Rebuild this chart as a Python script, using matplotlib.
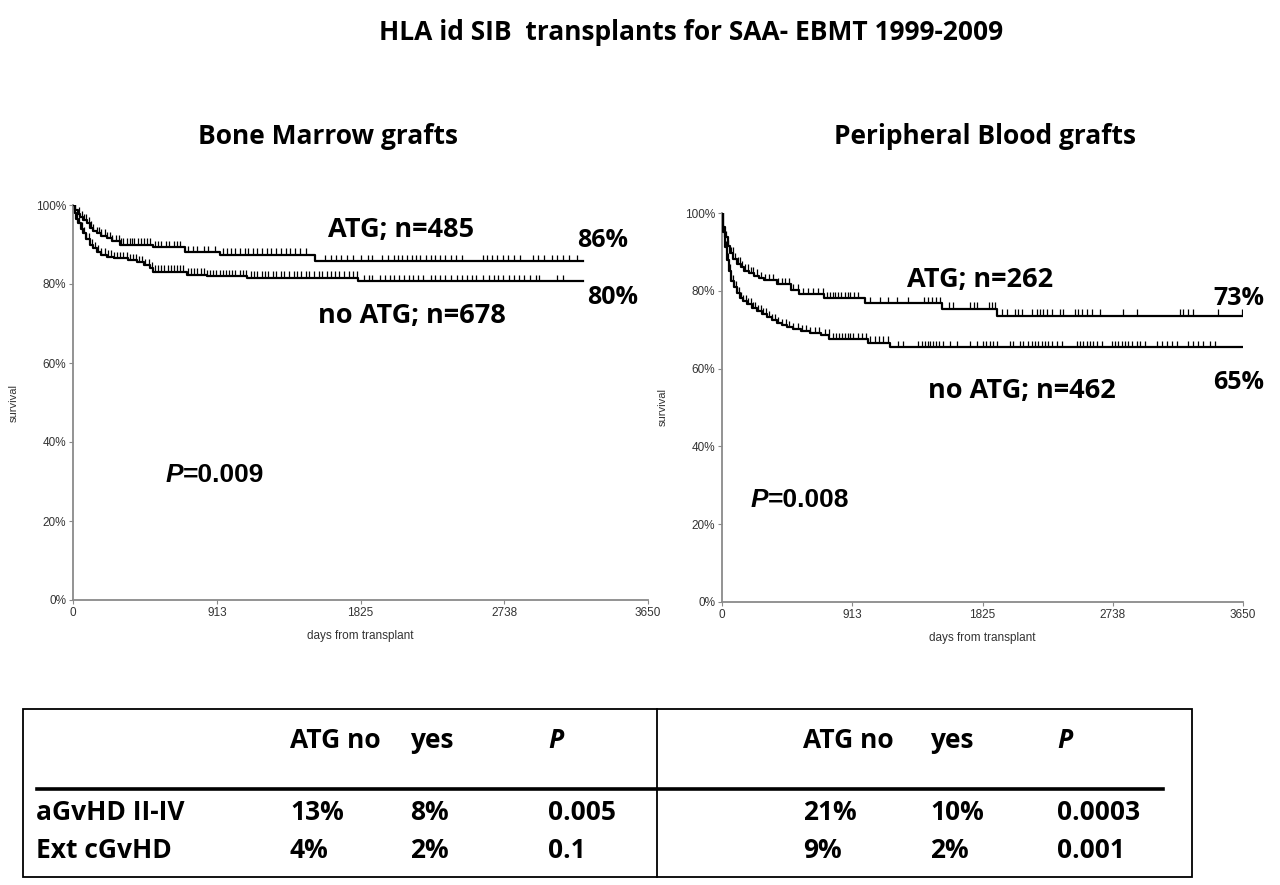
import matplotlib
matplotlib.use("Agg")
import matplotlib.pyplot as plt
import numpy as np
from matplotlib.patches import Rectangle
from matplotlib.lines import Line2D

# ---- survival curves (days, survival %) ----
bm_atg_t = [0, 15, 30, 44, 65, 87, 110, 130, 150, 180, 214, 250, 300, 510, 711, 933, 1537, 3240]
bm_atg_s = [100, 98.8, 97.8, 97.0, 96.2, 95.4, 94.3, 93.5, 92.8, 92.2, 91.6, 90.8, 90.0, 89.4, 88.0, 87.4, 85.8, 85.8]
bm_atg_cens = [40, 55, 70, 85, 100, 115, 130, 150, 165, 180, 200, 215, 235, 250, 270, 290, 305, 320, 340, 360,
               375, 390, 410, 430, 450, 470, 490, 520, 540, 560, 590, 610, 640, 660, 680, 730, 760, 790, 830,
               860, 900, 950, 975, 1000, 1030, 1060, 1090, 1110, 1140, 1170, 1200, 1230, 1260, 1290, 1320,
               1350, 1380, 1410, 1440, 1480, 1600, 1640, 1670, 1700, 1740, 1780, 1830, 1870, 1900, 1960,
               2000, 2040, 2060, 2090, 2120, 2150, 2180, 2200, 2240, 2270, 2300, 2330, 2360, 2400, 2430,
               2470, 2600, 2630, 2660, 2690, 2730, 2760, 2800, 2840, 2920, 2950, 2990, 3040, 3070, 3110,
               3150, 3200]

bm_no_t = [0, 10, 20, 34, 50, 66, 85, 108, 130, 150, 180, 214, 260, 298, 350, 404, 450, 489, 510, 722, 849,
           1103, 1812, 3240]
bm_no_s = [100, 98.0, 96.5, 95.4, 94.0, 92.8, 91.3, 89.9, 89.0, 88.2, 87.4, 86.9, 86.6, 86.5, 86.0, 85.6,
           84.8, 84.0, 83.1, 82.4, 81.9, 81.6, 80.8, 80.8]
bm_no_cens = [25, 40, 55, 70, 85, 100, 120, 140, 160, 180, 200, 220, 240, 260, 280, 300, 320, 340, 360, 380,
              400, 420, 440, 460, 480, 500, 520, 540, 560, 580, 600, 620, 640, 660, 680, 700, 730, 750, 770,
              790, 810, 830, 850, 870, 890, 910, 930, 950, 970, 990, 1010, 1030, 1060, 1080, 1100, 1130,
              1150, 1170, 1200, 1220, 1240, 1270, 1290, 1320, 1340, 1370, 1400, 1420, 1450, 1480, 1500,
              1530, 1560, 1580, 1610, 1640, 1660, 1690, 1720, 1750, 1780, 1800, 1850, 1880, 1900, 1950,
              1980, 2010, 2040, 2070, 2100, 2130, 2160, 2190, 2220, 2270, 2300, 2330, 2360, 2400, 2440,
              2470, 2500, 2530, 2560, 2600, 2640, 2670, 2700, 2730, 2770, 2800, 2830, 2860, 2900, 2940,
              2960, 3070, 3110]

pb_atg_t = [0, 10, 23, 40, 59, 80, 106, 130, 153, 190, 223, 260, 294, 388, 482, 540, 717, 999, 1539, 1927, 3650]
pb_atg_s = [100, 96.5, 93.9, 91.5, 89.6, 88.2, 87.0, 86.0, 85.2, 84.5, 83.9, 83.3, 82.8, 81.7, 80.2, 79.1,
            78.1, 76.9, 75.4, 73.6, 73.6]
pb_atg_cens = [30, 45, 60, 75, 90, 110, 125, 140, 160, 180, 200, 220, 245, 270, 300, 330, 360, 390, 420, 440,
               470, 500, 530, 570, 605, 640, 675, 710, 735, 755, 775, 795, 815, 835, 860, 880, 900, 925, 950,
               1040, 1110, 1165, 1225, 1305, 1415, 1440, 1470, 1500, 1530, 1590, 1620, 1740, 1765, 1785,
               1870, 1890, 1915, 1960, 1995, 2053, 2076, 2100, 2170, 2205, 2228, 2251, 2275, 2310, 2368,
               2391, 2473, 2496, 2520, 2555, 2590, 2648, 2811, 2905, 3208, 3231, 3266, 3301, 3476, 3640]

pb_no_t = [0, 10, 23, 35, 47, 65, 82, 105, 129, 150, 176, 210, 247, 280, 317, 350, 388, 420, 458, 500, 552,
           620, 693, 752, 1022, 1175, 3650]
pb_no_s = [100, 95.0, 91.3, 88.0, 85.2, 82.5, 80.9, 79.5, 78.2, 77.3, 76.5, 75.6, 74.8, 74.0, 73.2, 72.4,
           71.7, 71.1, 70.6, 70.1, 69.7, 69.2, 68.7, 67.5, 66.7, 65.5, 65.5]
pb_no_cens = [15, 25, 35, 45, 55, 65, 75, 85, 95, 105, 120, 135, 150, 165, 180, 200, 215, 230, 250, 270, 290,
              310, 330, 350, 370, 395, 420, 445, 470, 500, 530, 560, 590, 620, 650, 680, 720, 750, 780, 800,
              820, 840, 860, 880, 900, 920, 950, 980, 1010, 1040, 1070, 1100, 1130, 1160, 1236, 1271, 1376,
              1400, 1420, 1440, 1460, 1480, 1500, 1520, 1550, 1600, 1645, 1740, 1785, 1830, 1850, 1878,
              1900, 1925, 2018, 2041, 2088, 2111, 2146, 2170, 2193, 2216, 2240, 2263, 2286, 2310, 2345,
              2380, 2485, 2508, 2531, 2555, 2578, 2601, 2625, 2660, 2730, 2753, 2776, 2800, 2823, 2846,
              2870, 2905, 2928, 2963, 3045, 3080, 3115, 3150, 3185, 3266, 3301, 3336, 3371, 3418, 3453]

x_ticks = [0, 913, 1825, 2738, 3650]
y_ticks = [0, 20, 40, 60, 80, 100]

# ---- table ----
col_heads = ["ATG no", "yes", "P"]
row_names = ["aGvHD II-IV", "Ext cGvHD"]
bm_table = [["13%", "8%", "0.005"], ["4%", "2%", "0.1"]]
pb_table = [["21%", "10%", "0.0003"], ["9%", "2%", "0.001"]]

W, H = 1280, 885
BOLD = ["Open Sans", "DejaVu Sans"]
NARROW = ["Liberation Sans Narrow", "Liberation Sans", "DejaVu Sans"]


def fx(x):
    return x / W


def fy(y):
    return 1 - y / H


def draw_km(ax, t, s, cens):
    ax.step(t, s, where="post", color="black", lw=1.6, zorder=3)
    t = np.asarray(t)
    s = np.asarray(s)
    c = np.asarray(cens)
    lvl = s[np.searchsorted(t, c, side="right") - 1]
    ax.vlines(c, lvl, lvl + 1.6, color="black", lw=0.9, zorder=3)


def style_axes(ax):
    ax.set_xlim(0, 3650)
    ax.set_ylim(0, 100)
    ax.set_xticks(x_ticks)
    ax.set_xticklabels([str(v) for v in x_ticks])
    ax.set_yticks(y_ticks)
    ax.set_yticklabels([f"{v}%" for v in y_ticks])
    for sp in ["top", "right"]:
        ax.spines[sp].set_visible(False)
    for sp in ["left", "bottom"]:
        ax.spines[sp].set_color("#8a8a8a")
        ax.spines[sp].set_linewidth(1.3)
    ax.tick_params(length=3, color="#8a8a8a", labelcolor="#333333", labelsize=8.5, pad=2)
    for lab in ax.get_xticklabels() + ax.get_yticklabels():
        lab.set_family(NARROW)
    ax.set_xlabel("days from transplant", fontsize=8.5, family=NARROW, color="#333333", labelpad=8)
    ax.set_ylabel("survival", fontsize=8, family=NARROW, color="#333333", labelpad=12)


def p_value(ax, x, y, txt):
    ax.text(x, y, "P", ha="right", va="center", fontsize=19, fontweight="bold", style="italic",
            family=NARROW, clip_on=False)
    ax.text(x, y, txt, ha="left", va="center", fontsize=19, fontweight="bold", family=NARROW, clip_on=False)


def curve_label(ax, x, y, txt, size=19.5):
    ax.text(x, y, txt, fontsize=size, fontweight="bold", family=BOLD, va="center", clip_on=False)


fig = plt.figure(figsize=(12.8, 8.85), dpi=100)

fig.text(fx(691), fy(32), "HLA id SIB  transplants for SAA- EBMT 1999-2009", ha="center", va="center",
         fontsize=19, fontweight="bold", family=BOLD)
fig.text(fx(328), fy(137), "Bone Marrow grafts", ha="center", va="center", fontsize=19, fontweight="bold",
         family=BOLD)
fig.text(fx(985), fy(137), "Peripheral Blood grafts", ha="center", va="center", fontsize=19,
         fontweight="bold", family=BOLD)

# left panel: bone marrow
ax1 = fig.add_axes([fx(73), fy(600), 575 / W, 395 / H])
draw_km(ax1, bm_atg_t, bm_atg_s, bm_atg_cens)
draw_km(ax1, bm_no_t, bm_no_s, bm_no_cens)
style_axes(ax1)
curve_label(ax1, 1619, 93.7, "ATG; n=485")
curve_label(ax1, 3200, 91.1, "86%", 18)
curve_label(ax1, 3264, 76.7, "80%", 18)
curve_label(ax1, 1556, 71.9, "no ATG; n=678")
p_value(ax1, 698, 31.6, "=0.009")

# right panel: peripheral blood
ax2 = fig.add_axes([fx(722), fy(602), 521 / W, 389 / H])
draw_km(ax2, pb_atg_t, pb_atg_s, pb_atg_cens)
draw_km(ax2, pb_no_t, pb_no_s, pb_no_cens)
style_axes(ax2)
curve_label(ax2, 1296, 82.8, "ATG; n=262")
curve_label(ax2, 3440, 78.1, "73%", 18)
curve_label(ax2, 3440, 56.3, "65%", 18)
curve_label(ax2, 1444, 54.2, "no ATG; n=462")
p_value(ax2, 324, 26.2, "=0.008")

# table at the bottom
fig.add_artist(Rectangle((fx(23), fy(877)), (1192 - 23) / W, (877 - 709) / H, transform=fig.transFigure,
                         fill=False, edgecolor="black", lw=1.3))
fig.add_artist(Line2D([fx(657), fx(657)], [fy(709), fy(877)], transform=fig.transFigure, color="black", lw=1.3))
fig.add_artist(Line2D([fx(37), fx(1163)], [fy(789), fy(789)], transform=fig.transFigure, color="black", lw=2.6))

col_x = [[290, 410, 548], [803, 930, 1057]]
for side in range(2):
    for j, head in enumerate(col_heads):
        fig.text(fx(col_x[side][j]), fy(741), head, ha="left", va="center", fontsize=19, fontweight="bold",
                 family=BOLD, style="italic" if head == "P" else "normal")
row_y = [813, 850]
for i, name in enumerate(row_names):
    fig.text(fx(36), fy(row_y[i]), name, ha="left", va="center", fontsize=19, fontweight="bold", family=BOLD)
    for side, tab in enumerate([bm_table, pb_table]):
        for j, val in enumerate(tab[i]):
            fig.text(fx(col_x[side][j]), fy(row_y[i]), val, ha="left", va="center", fontsize=19,
                     fontweight="bold", family=BOLD)

fig.savefig("out.png", dpi=100)
